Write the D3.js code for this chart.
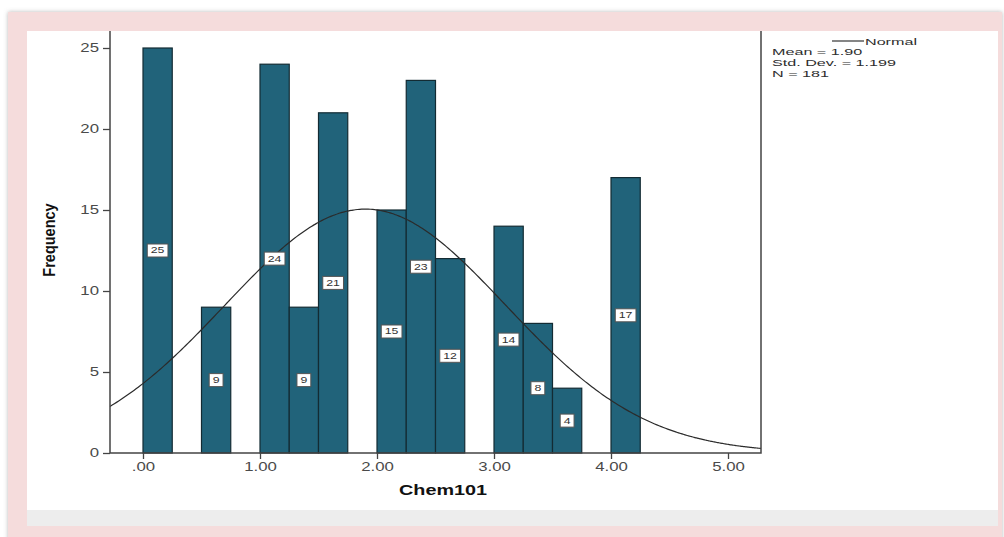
<!DOCTYPE html>
<html>
<head>
<meta charset="utf-8">
<script src="https://cdn.jsdelivr.net/npm/d3@7"></script>
<style>
  html, body { margin: 0; padding: 0; background: #ffffff; }
  svg { display: block; font-family: Arial, "Liberation Sans", sans-serif; }
</style>
</head>
<body>
<svg id="chart" width="1004" height="537"></svg>
<script>
// Histogram of Chem101 scores, bin width 0.25
const binStarts = [0, 0.5, 1.0, 1.25, 1.5, 2.0, 2.25, 2.5, 3.0, 3.25, 3.5, 4.0];
const frequencies = [25, 9, 24, 9, 21, 15, 23, 12, 14, 8, 4, 17];
const binWidth = 0.25;

const xTickValues = [0, 1, 2, 3, 4, 5];
const xTickLabels = [".00", "1.00", "2.00", "3.00", "4.00", "5.00"];
const yTickValues = [0, 5, 10, 15, 20, 25];

const statMean = 1.90;
const statSD = 1.199;
const statN = 181;
const legendLines = ["Mean = 1.90", "Std. Dev. = 1.199", "N = 181"];

const svg = d3.select("#chart");

// ---- page frame ----
const defs = svg.append("defs");
const shadow = defs.append("filter").attr("id", "frameShadow")
  .attr("x", "-5%").attr("y", "-5%").attr("width", "110%").attr("height", "110%");
shadow.append("feDropShadow").attr("dx", 0).attr("dy", 0)
  .attr("stdDeviation", 2).attr("flood-color", "#888").attr("flood-opacity", 0.6);

svg.append("rect").attr("x", 8).attr("y", 12).attr("width", 994).attr("height", 540)
  .attr("fill", "#f5dcdc").attr("filter", "url(#frameShadow)");
svg.append("rect").attr("x", 27).attr("y", 31).attr("width", 971).attr("height", 479)
  .attr("fill", "#ffffff");
svg.append("rect").attr("x", 27).attr("y", 510).attr("width", 971).attr("height", 16)
  .attr("fill", "#ededed");

// ---- scales ----
const plotLeft = 110, plotRight = 761, plotTop = 31, plotBottom = 453;
const x = d3.scaleLinear().domain([-0.282, 5.282]).range([plotLeft, plotRight]);
const y = d3.scaleLinear().domain([0, 25]).range([plotBottom, 48]);

const g = svg.append("g");

// ---- bars ----
const bins = binStarts.map((s, i) => ({ x0: s, x1: s + binWidth, count: frequencies[i] }));

g.selectAll("rect.bar").data(bins).join("rect")
  .attr("class", "bar")
  .attr("x", d => x(d.x0))
  .attr("y", d => y(d.count))
  .attr("width", d => x(d.x1) - x(d.x0))
  .attr("height", d => y(0) - y(d.count))
  .attr("fill", "#21637a")
  .attr("stroke", "#132b33")
  .attr("stroke-width", 1.2);

// ---- normal curve ----
const pdf = v => Math.exp(-0.5 * Math.pow((v - statMean) / statSD, 2)) / (statSD * Math.sqrt(2 * Math.PI));
const curvePts = d3.range(0, 301).map(i => {
  const v = x.domain()[0] + (x.domain()[1] - x.domain()[0]) * i / 300;
  return [v, statN * binWidth * pdf(v)];
});
g.append("path")
  .datum(curvePts)
  .attr("fill", "none")
  .attr("stroke", "#2b2b2b")
  .attr("stroke-width", 1.2)
  .attr("d", d3.line().x(d => x(d[0])).y(d => y(d[1])).curve(d3.curveBasis));

// ---- value labels on bars ----
const LSX = 1.45;
const labels = g.selectAll("g.vlabel").data(bins).join("g")
  .attr("class", "vlabel")
  .attr("transform", d => `translate(${(x(d.x0) + x(d.x1)) / 2},${y(d.count / 2)})`);
labels.append("rect").attr("class", "box");
labels.append("text")
  .attr("text-anchor", "middle")
  .attr("dy", "0.35em")
  .attr("font-size", 8.5)
  .attr("fill", "#333")
  .attr("transform", `scale(${LSX},1)`)
  .text(d => d.count);
labels.each(function () {
  const t = d3.select(this).select("text").node();
  const w = t.getComputedTextLength() * LSX + 7;
  d3.select(this).select("rect.box")
    .attr("x", -w / 2).attr("y", -6.5).attr("width", w).attr("height", 13)
    .attr("fill", "#ffffff").attr("stroke", "#555").attr("stroke-width", 1);
});

// ---- axes ----
const TSX = 1.4;
const yAxis = g.append("g")
  .attr("transform", `translate(${plotLeft},0)`)
  .call(d3.axisLeft(y).tickValues(yTickValues).tickSize(7).tickSizeOuter(0));
yAxis.select(".domain").remove();
yAxis.selectAll(".tick line").attr("stroke", "#444").attr("stroke-width", 1.3);
yAxis.selectAll(".tick text")
  .attr("font-size", 12).attr("fill", "#4a4a4a")
  .attr("x", -11 / TSX)
  .attr("transform", `scale(${TSX},1)`)
  .style("font-family", "Arial, 'Liberation Sans', sans-serif");

const xAxis = g.append("g")
  .attr("transform", `translate(0,${plotBottom})`)
  .call(d3.axisBottom(x).tickValues(xTickValues).tickSize(6).tickSizeOuter(0)
    .tickFormat((d, i) => xTickLabels[i]));
xAxis.select(".domain").remove();
xAxis.selectAll(".tick line").attr("stroke", "#444").attr("stroke-width", 1.3);
xAxis.selectAll(".tick text")
  .attr("font-size", 12).attr("fill", "#4a4a4a")
  .attr("y", 9)
  .attr("transform", `scale(${TSX},1)`)
  .style("font-family", "Arial, 'Liberation Sans', sans-serif");

// plot frame: left, bottom and right edges
g.append("path")
  .attr("d", `M${plotLeft},${plotTop}V${plotBottom}H${plotRight}V${plotTop}`)
  .attr("fill", "none").attr("stroke", "#444").attr("stroke-width", 1.5);

// ---- axis titles ----
svg.append("text")
  .attr("transform", `translate(443,495) scale(1.32,1)`)
  .attr("text-anchor", "middle")
  .attr("font-size", 15).attr("font-weight", "bold").attr("fill", "#111")
  .text("Chem101");

svg.append("text")
  .attr("transform", `translate(54.5,240) scale(1.1,1) rotate(-90)`)
  .attr("text-anchor", "middle")
  .attr("font-size", 14.5).attr("font-weight", "bold").attr("fill", "#111")
  .text("Frequency");

// ---- legend ----
const GSX = 1.7;
const legend = svg.append("g");
legend.append("line")
  .attr("x1", 832).attr("x2", 864).attr("y1", 41).attr("y2", 41)
  .attr("stroke", "#333").attr("stroke-width", 1.2);
legend.append("text")
  .attr("transform", `translate(865,44.5) scale(${GSX},1)`)
  .attr("font-size", 9.5).attr("fill", "#2e2e2e")
  .text("Normal");
legend.selectAll("text.stat").data(legendLines).join("text")
  .attr("class", "stat")
  .attr("transform", (d, i) => `translate(772,${55 + i * 10.8}) scale(${GSX},1)`)
  .attr("font-size", 9.5).attr("fill", "#2e2e2e")
  .text(d => d);
</script>
</body>
</html>
